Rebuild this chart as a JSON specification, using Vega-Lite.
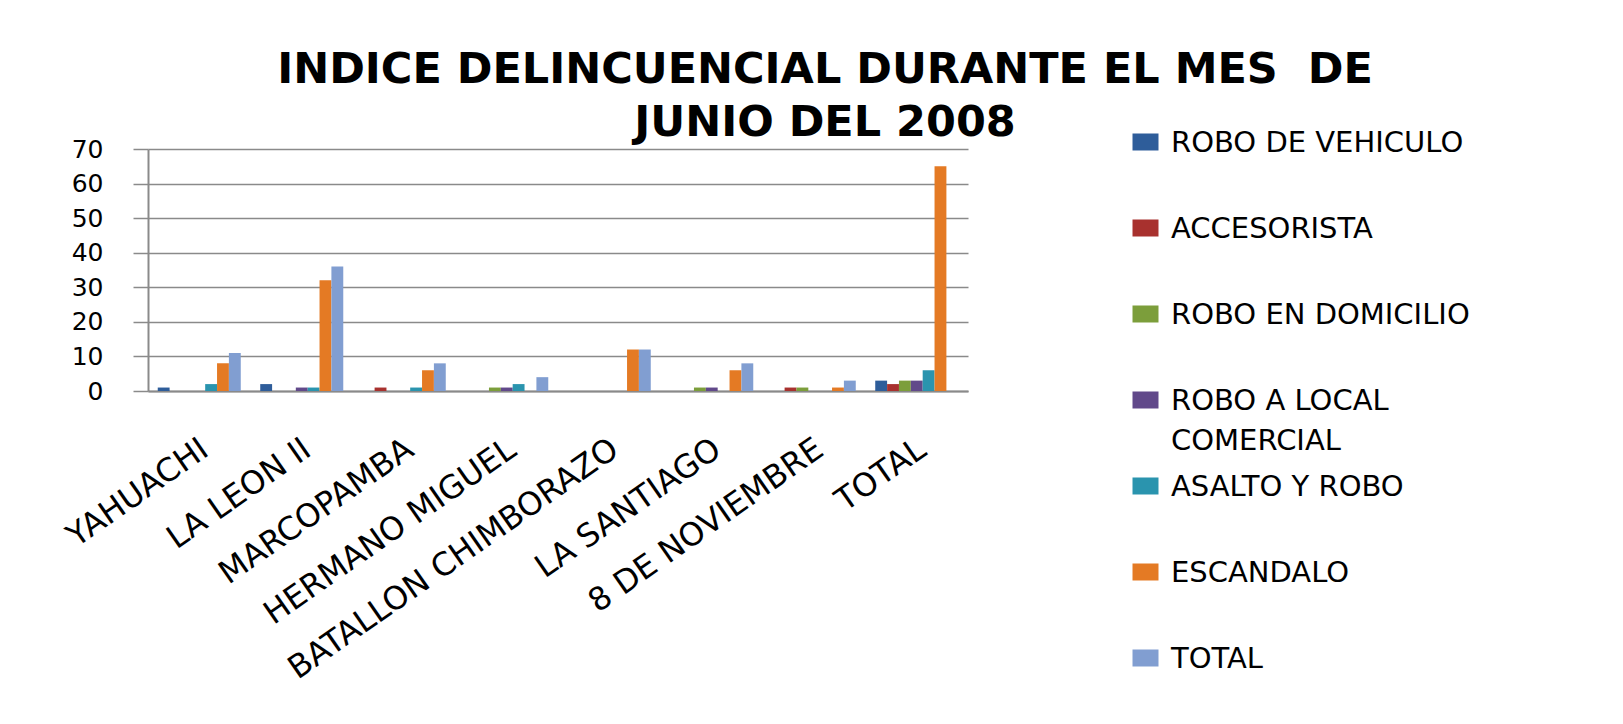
{
  "$schema": "https://vega.github.io/schema/vega-lite/v6.json",
  "autosize": {"type": "none"},
  "padding": {"left": 148, "top": 149, "right": 655, "bottom": 333},
  "width": 820,
  "height": 242,
  "background": "white",
  "config": {
    "view": {"stroke": null},
    "style": {"guide-label": {"lineHeight": 40}}
  },
  "title": {
    "text": ["INDICE DELINCUENCIAL DURANTE EL MES \u00a0DE", "JUNIO DEL 2008"],
    "font": "DejaVu Sans",
    "fontWeight": "bold",
    "fontSize": 43,
    "lineHeight": 53,
    "color": "#000000",
    "anchor": "middle",
    "frame": "group",
    "dx": 267,
    "offset": -8
  },
  "data": {
    "values": [
      {"barrio": "YAHUACHI", "tipo": "ROBO DE VEHICULO", "valor": 1},
      {"barrio": "YAHUACHI", "tipo": "ASALTO Y ROBO", "valor": 2},
      {"barrio": "YAHUACHI", "tipo": "ESCANDALO", "valor": 8},
      {"barrio": "YAHUACHI", "tipo": "TOTAL", "valor": 11},
      {"barrio": "LA LEON II", "tipo": "ROBO DE VEHICULO", "valor": 2},
      {"barrio": "LA LEON II", "tipo": "ROBO A LOCAL COMERCIAL", "valor": 1},
      {"barrio": "LA LEON II", "tipo": "ASALTO Y ROBO", "valor": 1},
      {"barrio": "LA LEON II", "tipo": "ESCANDALO", "valor": 32},
      {"barrio": "LA LEON II", "tipo": "TOTAL", "valor": 36},
      {"barrio": "MARCOPAMBA", "tipo": "ACCESORISTA", "valor": 1},
      {"barrio": "MARCOPAMBA", "tipo": "ASALTO Y ROBO", "valor": 1},
      {"barrio": "MARCOPAMBA", "tipo": "ESCANDALO", "valor": 6},
      {"barrio": "MARCOPAMBA", "tipo": "TOTAL", "valor": 8},
      {"barrio": "HERMANO MIGUEL", "tipo": "ROBO EN DOMICILIO", "valor": 1},
      {"barrio": "HERMANO MIGUEL", "tipo": "ROBO A LOCAL COMERCIAL", "valor": 1},
      {"barrio": "HERMANO MIGUEL", "tipo": "ASALTO Y ROBO", "valor": 2},
      {"barrio": "HERMANO MIGUEL", "tipo": "TOTAL", "valor": 4},
      {"barrio": "BATALLON CHIMBORAZO", "tipo": "ESCANDALO", "valor": 12},
      {"barrio": "BATALLON CHIMBORAZO", "tipo": "TOTAL", "valor": 12},
      {"barrio": "LA SANTIAGO", "tipo": "ROBO EN DOMICILIO", "valor": 1},
      {"barrio": "LA SANTIAGO", "tipo": "ROBO A LOCAL COMERCIAL", "valor": 1},
      {"barrio": "LA SANTIAGO", "tipo": "ESCANDALO", "valor": 6},
      {"barrio": "LA SANTIAGO", "tipo": "TOTAL", "valor": 8},
      {"barrio": "8 DE NOVIEMBRE", "tipo": "ACCESORISTA", "valor": 1},
      {"barrio": "8 DE NOVIEMBRE", "tipo": "ROBO EN DOMICILIO", "valor": 1},
      {"barrio": "8 DE NOVIEMBRE", "tipo": "ESCANDALO", "valor": 1},
      {"barrio": "8 DE NOVIEMBRE", "tipo": "TOTAL", "valor": 3},
      {"barrio": "TOTAL", "tipo": "ROBO DE VEHICULO", "valor": 3},
      {"barrio": "TOTAL", "tipo": "ACCESORISTA", "valor": 2},
      {"barrio": "TOTAL", "tipo": "ROBO EN DOMICILIO", "valor": 3},
      {"barrio": "TOTAL", "tipo": "ROBO A LOCAL COMERCIAL", "valor": 3},
      {"barrio": "TOTAL", "tipo": "ASALTO Y ROBO", "valor": 6},
      {"barrio": "TOTAL", "tipo": "ESCANDALO", "valor": 65}
    ]
  },
  "mark": {"type": "bar"},
  "encoding": {
    "x": {
      "field": "barrio",
      "type": "nominal",
      "sort": ["YAHUACHI", "LA LEON II", "MARCOPAMBA", "HERMANO MIGUEL", "BATALLON CHIMBORAZO", "LA SANTIAGO", "8 DE NOVIEMBRE", "TOTAL"],
      "scale": {"paddingInner": 0.19, "paddingOuter": 0.095},
      "title": null,
      "axis": {
        "labelAngle": -35,
        "labelAlign": "right",
        "labelBaseline": "top",
        "labelOffset": -3,
        "labelPadding": 42,
        "ticks": false,
        "labelFont": "DejaVu Sans",
        "labelFontSize": 32,
        "labelColor": "#000000",
        "labelLimit": 600,
        "domainColor": "#8a8a8a",
        "domainWidth": 2
      }
    },
    "xOffset": {
      "field": "tipo",
      "type": "nominal",
      "sort": ["ROBO DE VEHICULO", "ACCESORISTA", "ROBO EN DOMICILIO", "ROBO A LOCAL COMERCIAL", "ASALTO Y ROBO", "ESCANDALO", "TOTAL"],
      "scale": {"domain": ["ROBO DE VEHICULO", "ACCESORISTA", "ROBO EN DOMICILIO", "ROBO A LOCAL COMERCIAL", "ASALTO Y ROBO", "ESCANDALO", "TOTAL"], "paddingInner": 0, "paddingOuter": 0}
    },
    "y": {
      "field": "valor",
      "type": "quantitative",
      "scale": {"domain": [0, 70]},
      "title": null,
      "axis": {
        "values": [0, 10, 20, 30, 40, 50, 60, 70],
        "grid": true,
        "gridColor": "#8a8a8a",
        "gridWidth": 1.5,
        "domainColor": "#8a8a8a",
        "domainWidth": 2,
        "tickColor": "#8a8a8a",
        "tickSize": 15,
        "tickWidth": 1.5,
        "labelPadding": 30,
        "labelFont": "DejaVu Sans",
        "labelFontSize": 25,
        "labelColor": "#000000"
      }
    },
    "color": {
      "field": "tipo",
      "type": "nominal",
      "scale": {
        "domain": ["ROBO DE VEHICULO", "ACCESORISTA", "ROBO EN DOMICILIO", "ROBO A LOCAL COMERCIAL", "ASALTO Y ROBO", "ESCANDALO", "TOTAL"],
        "range": ["#2E5D9A", "#A8312E", "#7C9E3B", "#61498A", "#2A94AE", "#E47A24", "#819ED1"]
      },
      "legend": {
        "orient": "none",
        "legendX": 983,
        "legendY": -12,
        "title": null,
        "padding": 0,
        "symbolType": "M-1,-1.385H1V-0.077H-1Z",
        "symbolSize": 676,
        "symbolStrokeWidth": 0,
        "symbolOpacity": 1,
        "labelFont": "DejaVu Sans",
        "labelFontSize": 29,
        "labelColor": "#000000",
        "labelOffset": 11,
        "labelLimit": 600,
        "labelBaseline": "alphabetic",
        "gridAlign": "all",
        "rowPadding": 16,
        "labelExpr": "datum.label == 'ROBO A LOCAL COMERCIAL' ? ['ROBO A LOCAL', 'COMERCIAL'] : datum.label"
      }
    }
  }
}
